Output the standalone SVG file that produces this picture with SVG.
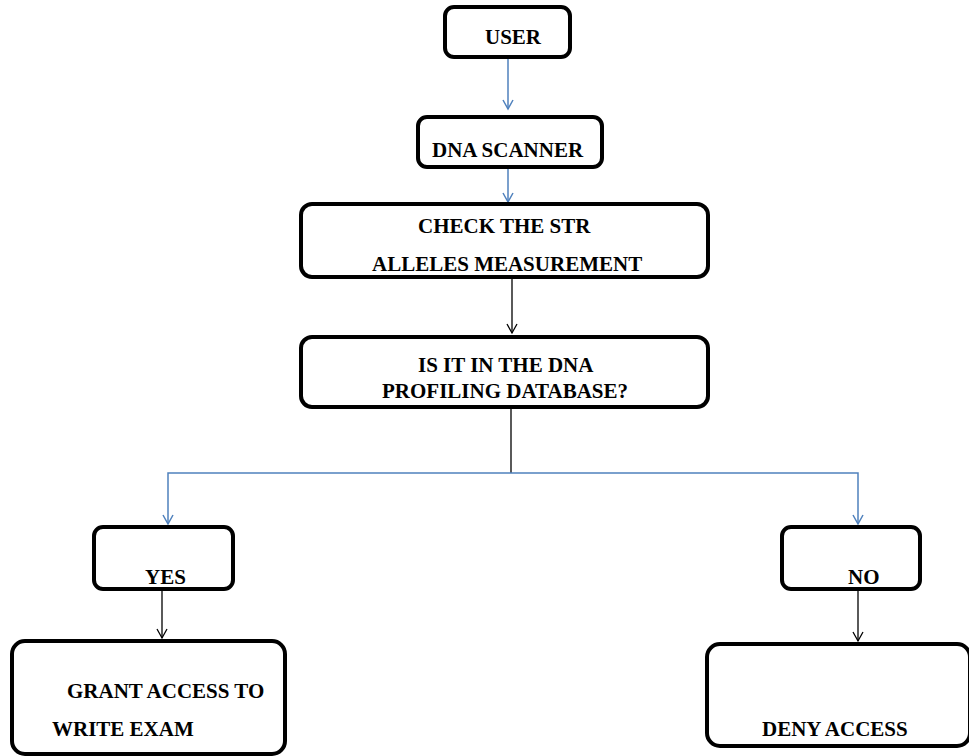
<svg xmlns="http://www.w3.org/2000/svg" width="969" height="756" viewBox="0 0 969 756">
<style>
.box{fill:#fff;stroke:#000;stroke-width:4}
.t{font-family:"Liberation Serif","Times New Roman","DejaVu Serif",serif;font-weight:bold;font-size:21px;fill:#000}
.blue{stroke:#4f81bd;stroke-width:1.5;fill:none}
.blk{stroke:#000;stroke-width:1.3;fill:none}
</style>
<defs>
<marker id="ab" viewBox="-11 -7 13 14" markerWidth="13" markerHeight="14" refX="0" refY="0" orient="auto" markerUnits="userSpaceOnUse">
<path d="M-9,-5 L0,0 L-9,5" fill="none" stroke="#4f81bd" stroke-width="1.5"/>
</marker>
<marker id="ak" viewBox="-11 -7 13 14" markerWidth="13" markerHeight="14" refX="0" refY="0" orient="auto" markerUnits="userSpaceOnUse">
<path d="M-9,-5 L0,0 L-9,5" fill="none" stroke="#000" stroke-width="1.3"/>
</marker>
</defs>
<g id="connectors">
<line class="blue" x1="508" y1="57" x2="508" y2="109" marker-end="url(#ab)"/>
<line class="blue" x1="508" y1="167" x2="508" y2="202" marker-end="url(#ab)"/>
<line class="blk" x1="512" y1="279" x2="512" y2="333" marker-end="url(#ak)"/>
<line class="blk" x1="511" y1="409" x2="511" y2="473"/>
<polyline class="blue" points="511,473 168,473 168,524" marker-end="url(#ab)"/>
<polyline class="blue" points="511,473 858,473 858,524" marker-end="url(#ab)"/>
<line class="blk" x1="162" y1="591" x2="162" y2="638" marker-end="url(#ak)"/>
<line class="blk" x1="858" y1="591" x2="858" y2="641" marker-end="url(#ak)"/>
</g>
<g id="user">
<rect class="box" x="445" y="7" width="125" height="50" rx="9"/>
<text class="t" x="485" y="44" font-family="Liberation Serif, serif">USER</text>
</g>
<g id="dna-scanner">
<rect class="box" x="418" y="117" width="184" height="50" rx="9"/>
<text class="t" x="432" y="157">DNA SCANNER</text>
</g>
<g id="check">
<rect class="box" x="301" y="204" width="407" height="73" rx="11"/>
<text class="t" x="418" y="233">CHECK THE STR</text>
<text class="t" x="372" y="271">ALLELES MEASUREMENT</text>
</g>
<g id="database">
<rect class="box" x="301" y="337" width="407" height="70" rx="11"/>
<text class="t" x="418" y="372">IS IT IN THE DNA</text>
<text class="t" x="382" y="398">PROFILING DATABASE?</text>
</g>
<g id="yes">
<rect class="box" x="94" y="527" width="139" height="62" rx="9"/>
<text class="t" x="145" y="584">YES</text>
</g>
<g id="no">
<rect class="box" x="782" y="527" width="138" height="62" rx="9"/>
<text class="t" x="848" y="584">NO</text>
</g>
<g id="grant">
<rect class="box" x="12" y="641" width="273" height="113" rx="13"/>
<text class="t" x="67" y="698">GRANT ACCESS TO</text>
<text class="t" x="52" y="736">WRITE EXAM</text>
</g>
<g id="deny">
<rect class="box" x="707" y="644" width="263" height="102" rx="13"/>
<text class="t" x="762" y="736">DENY ACCESS</text>
</g>
</svg>
